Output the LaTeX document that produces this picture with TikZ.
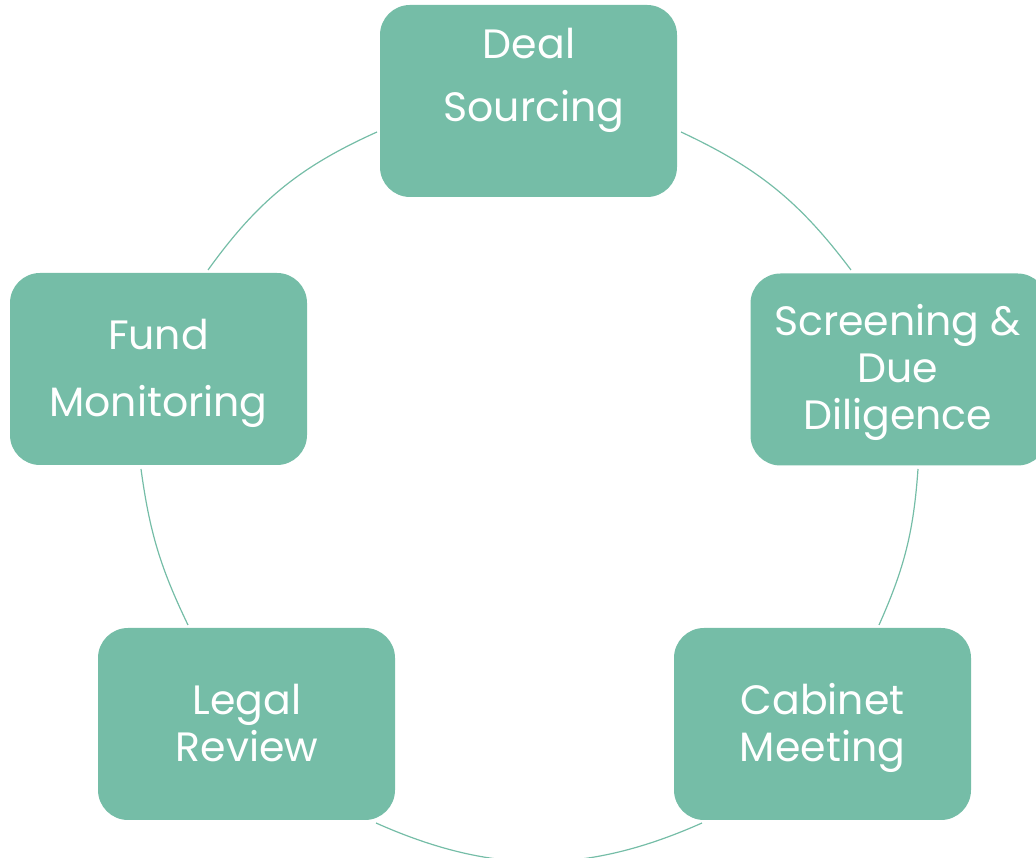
\documentclass[tikz,border=0pt]{standalone}
\usepackage{fontspec}
\setmainfont{Poppins}
\definecolor{teal}{HTML}{75BDA7}
\begin{document}
\begin{tikzpicture}[x=1pt,y=1pt,
  stage/.style={fill=teal, draw=none, rounded corners=30pt, minimum width=297pt, minimum height=192pt, inner sep=0pt},
  txt/.style={text=white, font=\fontsize{41}{41}\selectfont, anchor=base, inner sep=0pt},
  link/.style={draw=teal, line width=1.2pt}]
\useasboundingbox (0,0) rectangle (1036,858);
\node[stage] (deal) at (528.5,757) {};
\node[stage] (screen) at (899,488.5) {};
\node[stage] (cabinet) at (822.5,134) {};
\node[stage] (legal) at (246.5,134) {};
\node[stage] (fund) at (158.5,489) {};
% texts
\node[txt] (t1a) at (529,799) {Deal};
\node[txt] (t1b) at (534,736) {Sourcing};
\node[txt] (t2a) at (897.5,522) {Screening \&};
\node[txt] (t2b) at (897.5,475) {Due};
\node[txt] (t2c) at (897.5,428) {Diligence};
\node[txt] (t3a) at (822.5,143) {Cabinet};
\node[txt] (t3b) at (822.5,96) {Meeting};
\node[txt] (t4a) at (247,143) {Legal};
\node[txt] (t4b) at (247,96) {Review};
\node[txt] (t5a) at (158.5,508) {Fund};
\node[txt] (t5b) at (158.5,441) {Monitoring};
% connector ends
\coordinate (a1s) at (377,726);
\coordinate (a1e) at (208,588);
\coordinate (a2s) at (681,726);
\coordinate (a2e) at (851,588);
\coordinate (a3s) at (141,389);
\coordinate (a3e) at (188,233);
\coordinate (a4s) at (918,389);
\coordinate (a4e) at (879,233);
\coordinate (a5s) at (376,35);
\coordinate (a5e) at (702,35);
\draw[link] (a1s) to[bend right=15] (a1e);
\draw[link] (a2s) to[bend left=14] (a2e);
\draw[link] (a3s) to[bend right=9] (a3e);
\draw[link] (a4s) to[bend left=10] (a4e);
\draw[link] (a5s) to[bend right=24] (a5e);
\end{tikzpicture}
\end{document}
